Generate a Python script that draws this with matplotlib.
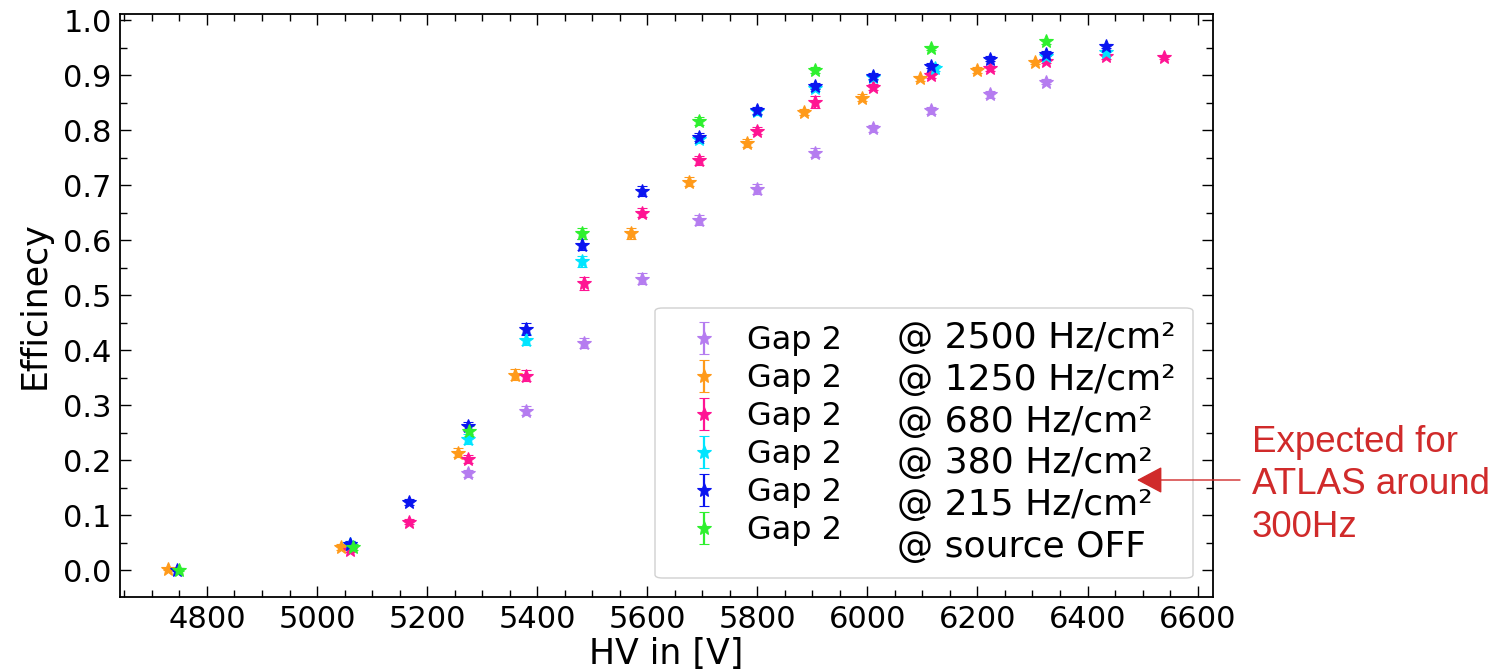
import matplotlib
matplotlib.use("Agg")
import matplotlib.pyplot as plt
from matplotlib.ticker import MultipleLocator, FormatStrFormatter
from matplotlib.patches import ArrowStyle, FancyArrowPatch, FancyBboxPatch

# ---------------- data ----------------
gap_labels = ["Gap 2", "Gap 2", "Gap 2", "Gap 2", "Gap 2", "Gap 2"]
rate_labels = ["@ 2500 Hz/cm²", "@ 1250 Hz/cm²", "@ 680 Hz/cm²",
               "@ 380 Hz/cm²", "@ 215 Hz/cm²", "@ source OFF"]
colors = ["#b57cf0", "#ff9a1a", "#ff1493", "#00e5ff", "#0a14f0", "#2ef02e"]

hv_2500 = [5275, 5380, 5485, 5590, 5694, 5799, 5905, 6011, 6115, 6222, 6325]
eff_2500 = [0.176, 0.290, 0.412, 0.530, 0.636, 0.693, 0.759, 0.803, 0.836, 0.865, 0.888]
err_2500 = [0.006, 0.008, 0.009, 0.010, 0.009, 0.009, 0.008, 0.007, 0.006, 0.006, 0.005]

hv_1250 = [4730, 5044, 5256, 5360, 5571, 5676, 5781, 5885, 5991, 6095, 6199, 6305]
eff_1250 = [0.002, 0.042, 0.213, 0.355, 0.612, 0.706, 0.776, 0.833, 0.859, 0.894, 0.909, 0.924]
err_1250 = [0.002, 0.005, 0.008, 0.010, 0.010, 0.008, 0.007, 0.006, 0.006, 0.005, 0.005, 0.004]

hv_680 = [5060, 5167, 5275, 5380, 5485, 5590, 5694, 5799, 5905, 6011, 6115, 6222, 6325, 6433, 6539]
eff_680 = [0.036, 0.088, 0.202, 0.353, 0.521, 0.650, 0.745, 0.799, 0.851, 0.878, 0.900, 0.912, 0.925, 0.934, 0.933]
err_680 = [0.004, 0.005, 0.008, 0.010, 0.011, 0.009, 0.008, 0.007, 0.011, 0.006, 0.005, 0.005, 0.004, 0.004, 0.004]

hv_380 = [5060, 5275, 5380, 5482, 5694, 5799, 5905, 6011, 6122, 6325, 6433]
eff_380 = [0.047, 0.238, 0.419, 0.561, 0.783, 0.834, 0.877, 0.896, 0.913, 0.934, 0.941]
err_380 = [0.005, 0.009, 0.010, 0.010, 0.007, 0.006, 0.006, 0.005, 0.005, 0.004, 0.004]

hv_215 = [4746, 5060, 5167, 5275, 5380, 5482, 5590, 5694, 5799, 5905, 6011, 6115, 6222, 6325, 6433]
eff_215 = [0.001, 0.047, 0.124, 0.261, 0.439, 0.591, 0.689, 0.787, 0.836, 0.880, 0.898, 0.917, 0.930, 0.939, 0.953]
err_215 = [0.002, 0.005, 0.006, 0.009, 0.011, 0.010, 0.009, 0.007, 0.006, 0.005, 0.005, 0.005, 0.004, 0.004, 0.004]

hv_off = [4750, 5066, 5277, 5482, 5694, 5905, 6115, 6325]
eff_off = [0.001, 0.042, 0.253, 0.612, 0.817, 0.909, 0.949, 0.961]
err_off = [0.002, 0.005, 0.009, 0.010, 0.007, 0.005, 0.004, 0.004]

x_values = [hv_2500, hv_1250, hv_680, hv_380, hv_215, hv_off]
y_values = [eff_2500, eff_1250, eff_680, eff_380, eff_215, eff_off]
y_errors = [err_2500, err_1250, err_680, err_380, err_215, err_off]

annotation_text = "Expected for\nATLAS around\n300Hz"

# ---------------- figure ----------------
W, H = 1508, 671
fig = plt.figure(figsize=(W / 100, H / 100), dpi=100)
ax = fig.add_axes([120 / W, 1 - 597 / H, (1213 - 120) / W, (597 - 14) / H])


def fx(px):
    return px / W


def fy(py):
    return 1 - py / H


handles = []
for xs, ys, es, c, lab in zip(x_values, y_values, y_errors, colors, gap_labels):
    h = ax.errorbar(xs, ys, yerr=es, fmt="*", color=c, ecolor=c, ms=10,
                    mew=0.8, elinewidth=1.6, capsize=3.5, capthick=1.6,
                    label=lab, linestyle="none")
    handles.append(h)

ax.set_xlim(4642, 6628)
ax.set_ylim(-0.049, 1.011)
ax.xaxis.set_major_locator(MultipleLocator(200))
ax.xaxis.set_minor_locator(MultipleLocator(50))
ax.yaxis.set_major_locator(MultipleLocator(0.1))
ax.yaxis.set_minor_locator(MultipleLocator(0.05))
ax.yaxis.set_major_formatter(FormatStrFormatter("%.1f"))

ax.tick_params(which="both", direction="in", top=True, right=True,
               labelsize=22, width=1.0)
ax.tick_params(which="major", length=8, pad=6)
ax.tick_params(which="minor", length=5)
for sp in ax.spines.values():
    sp.set_linewidth(1.3)

ax.set_xlabel("HV in [V]", fontsize=25, labelpad=2)
ax.set_ylabel("Efficinecy", fontsize=25, labelpad=8)

# legend frame drawn by hand so it can span both text columns
frame = FancyBboxPatch((fx(655), fy(578)), fx(1193) - fx(655), fy(308) - fy(578),
                       boxstyle="round,pad=0,rounding_size=0.005",
                       transform=fig.transFigure, facecolor="white",
                       edgecolor="#cccccc", linewidth=1.0, alpha=0.9,
                       zorder=4.5)
ax.add_patch(frame)
frame.set_clip_on(False)

leg = ax.legend(handles=handles, labels=gap_labels, loc="upper left",
                bbox_to_anchor=(fx(672), fy(325)), bbox_transform=fig.transFigure,
                fontsize=23, labelspacing=0.22, handletextpad=0.34,
                handlelength=2.0, borderpad=0.0, borderaxespad=0.0,
                frameon=False)
leg.set_zorder(5)

# right-hand column of the legend (rate descriptions)
baselines = [348, 390, 432, 473, 515, 557]
for txt, yb in zip(rate_labels, baselines):
    fig.text(fx(897), fy(yb), txt, fontsize=26, va="baseline",
             ha="left", color="black", zorder=6)

# annotation with arrow
red = "#d02a2a"
fig.text(fx(1252), fy(425), annotation_text, fontsize=26.5,
         family="Liberation Sans", color=red, va="top", ha="left",
         linespacing=1.27)
arrow = FancyArrowPatch(
    posA=(fx(1240), fy(480)), posB=(fx(1137), fy(480)),
    transform=fig.transFigure,
    arrowstyle=ArrowStyle("-|>", head_length=1.6, head_width=0.85),
    mutation_scale=10, color=red, lw=1.0, shrinkA=0, shrinkB=0, zorder=7)
fig.patches.append(arrow)

fig.savefig("out.png", dpi=100)
